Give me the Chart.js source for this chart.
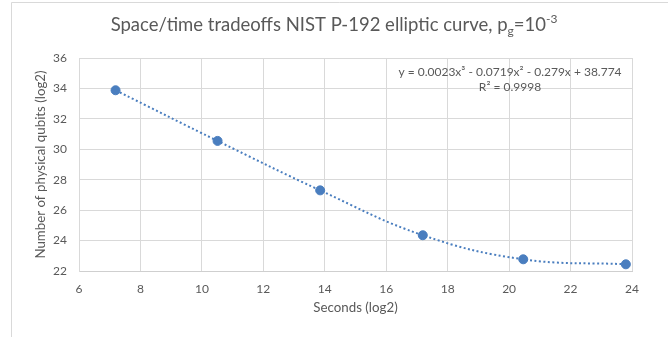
<!DOCTYPE html>
<html>
<head>
<meta charset="utf-8">
<script src="https://cdn.jsdelivr.net/npm/chart.js@4.4.1/dist/chart.umd.min.js"></script>
<style>
html,body{margin:0;padding:0;background:#ffffff;}
#wrap{width:668px;height:337px;position:relative;}
</style>
</head>
<body>
<div id="wrap"><canvas id="c" width="668" height="337"></canvas></div>
<script>
// ---- data ----
const seconds = [7.19, 10.51, 13.85, 17.19, 20.46, 23.80];   // x (log2 seconds)
const qubits  = [33.88, 30.55, 27.30, 24.35, 22.77, 22.44];  // y (log2 physical qubits)
const xTicks  = [6, 8, 10, 12, 14, 16, 18, 20, 22, 24];
const yTicks  = [22, 24, 26, 28, 30, 32, 34, 36];
const titleParts = ['Space/time tradeoffs NIST P-192 elliptic curve, p', 'g', '=10', '-3'];
const equationLines = ['y = 0.0023x\u00B3 - 0.0719x\u00B2 - 0.279x + 38.774', 'R\u00B2 = 0.9998'];
const xTitle = 'Seconds (log2)';
const yTitle = 'Number of physical qubits (log2)';

const FONT = 'Lato, "Open Sans", sans-serif';
const TXT = '#595959';
const GRID = '#d9d9d9';
const BLUE = '#4a7ebf';

const decor = {
  id: 'decor',
  beforeDraw(chart) {
    const ctx = chart.ctx;
    ctx.save();
    ctx.fillStyle = '#ffffff';
    ctx.fillRect(0, 0, chart.width, chart.height);
    ctx.strokeStyle = GRID;
    ctx.lineWidth = 1;
    ctx.beginPath();
    ctx.moveTo(11.5, chart.height);
    ctx.lineTo(11.5, 2.5);
    ctx.lineTo(chart.width, 2.5);
    ctx.stroke();
    ctx.restore();
  },
  afterDraw(chart) {
    const ctx = chart.ctx;
    ctx.save();
    ctx.fillStyle = TXT;
    ctx.textBaseline = 'alphabetic';
    // title with subscript / superscript
    const big = '18.5px ' + FONT, small = '12px ' + FONT;
    ctx.font = big;
    const w0 = ctx.measureText(titleParts[0]).width;
    const w2 = ctx.measureText(titleParts[2]).width;
    ctx.font = small;
    const w1 = ctx.measureText(titleParts[1]).width;
    const w3 = ctx.measureText(titleParts[3]).width;
    const total = w0 + w1 + w2 + w3;
    const cx = 334, base = 31;
    let x = cx - total / 2;
    ctx.textAlign = 'left';
    ctx.font = big;  ctx.fillText(titleParts[0], x, base); x += w0;
    ctx.font = small; ctx.fillText(titleParts[1], x, base + 4); x += w1;
    ctx.font = big;  ctx.fillText(titleParts[2], x, base); x += w2;
    ctx.font = small; ctx.fillText(titleParts[3], x, base - 8);
    // trendline equation
    ctx.font = '12px ' + FONT;
    ctx.textAlign = 'center';
    ctx.textBaseline = 'middle';
    ctx.fillText(equationLines[0], 510, 72);
    ctx.fillText(equationLines[1], 510, 87);
    ctx.restore();
  }
};

function build() {
  const pts = seconds.map((x, i) => ({ x: x, y: qubits[i] }));
  new Chart(document.getElementById('c'), {
    type: 'scatter',
    data: {
      datasets: [
        {
          label: 'Trendline',
          data: pts,
          showLine: true,
          tension: 0.4,
          borderColor: BLUE,
          borderWidth: 2,
          borderDash: [2, 2.5],
          pointRadius: 0,
          fill: false,
          order: 2
        },
        {
          label: 'Points',
          data: pts,
          backgroundColor: BLUE,
          borderColor: BLUE,
          pointRadius: 4.5,
          pointHoverRadius: 4.5,
          order: 1
        }
      ]
    },
    options: {
      responsive: false,
      animation: false,
      devicePixelRatio: 1,
      layout: { padding: { left: 0, right: 36, top: 58, bottom: 0 } },
      plugins: { legend: { display: false }, tooltip: { enabled: false }, title: { display: false } },
      scales: {
        x: {
          type: 'linear', min: 6, max: 24,
          afterBuildTicks: s => { s.ticks = xTicks.map(v => ({ value: v })); },
          afterFit: s => { s.height = 66; },
          grid: { color: GRID, drawTicks: false },
          border: { color: '#cfcfcf' },
          ticks: { padding: 11, color: TXT, font: { family: FONT, size: 12 } },
          title: { display: true, text: xTitle, color: TXT, font: { family: FONT, size: 13.3 }, padding: { top: 0, bottom: 21 } }
        },
        y: {
          type: 'linear', min: 22, max: 36,
          afterBuildTicks: s => { s.ticks = yTicks.map(v => ({ value: v })); },
          afterFit: s => { s.width = 79; },
          grid: { color: GRID, drawTicks: false },
          border: { color: GRID },
          ticks: { padding: 12, color: TXT, font: { family: FONT, size: 12 } },
          title: { display: true, text: yTitle, color: TXT, font: { family: FONT, size: 13.3 }, padding: { top: 33, bottom: 0 } }
        }
      }
    },
    plugins: [decor]
  });
}
Promise.all([document.fonts.load('12px Lato'), document.fonts.load('18px Lato')]).then(build, build);
</script>
</body>
</html>
